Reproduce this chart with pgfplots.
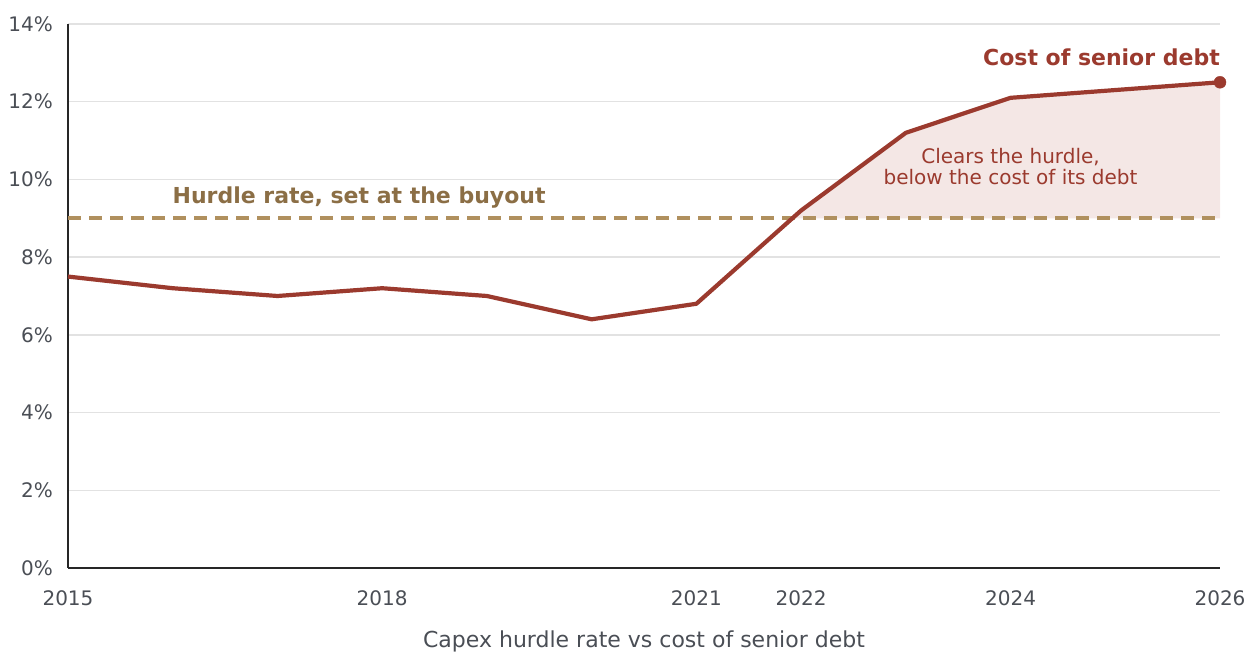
\documentclass[border=0pt]{standalone}
\usepackage{fontspec}
\setmainfont{DejaVu Sans}
\usepackage{pgfplots}
\pgfplotsset{compat=1.18}
\definecolor{debtred}{HTML}{9B3A2E}
\definecolor{hurdle}{HTML}{B0905E}
\definecolor{hurdletext}{HTML}{8B6E45}
\definecolor{fillpink}{HTML}{F4E7E5}
\definecolor{ticktext}{HTML}{4A4E55}
\definecolor{gridc}{HTML}{E2E2E2}
\begin{document}
\begin{tikzpicture}
\path[use as bounding box] (0,0) rectangle (1247pt,652pt);
\begin{axis}[
  at={(68pt,84pt)}, anchor=south west,
  scale only axis, width=1152pt, height=544pt,
  xmin=2015, xmax=2026, ymin=0, ymax=14,
  axis lines*=left,
  axis line style={line width=2.5pt, color=black!85},
  separate axis lines,
  x axis line style={-}, y axis line style={-},
  xtick={2015,2018,2021,2022,2024,2026},
  xticklabels={2015,2018,2021,2022,2024,2026},
  ytick={0,2,4,6,8,10,12,14},
  yticklabels={0\%,2\%,4\%,6\%,8\%,10\%,12\%,14\%},
  major tick length=0pt,
  ymajorgrids, grid style={gridc, line width=1.5pt},
  tick label style={font=\fontsize{20}{22}\selectfont, text=ticktext},
  xticklabel style={anchor=base, yshift=-38pt, inner sep=0pt},
  yticklabel style={anchor=east, xshift=-15pt, inner sep=0pt},
  xlabel={Capex hurdle rate vs cost of senior debt},
  xlabel style={at={(axis description cs:0.5,0)}, anchor=base, yshift=-80pt, inner sep=0pt, font=\fontsize{22}{24}\selectfont, text=ticktext},
  clip=false,
]
% shaded region between debt cost and hurdle
\addplot[fill=fillpink, draw=none, forget plot] coordinates {
  (2021.9167,9) (2022,9.2) (2023,11.2) (2024,12.1) (2026,12.5) (2026,9)
} -- cycle;
% hurdle rate
\addplot[hurdle, line width=4.2pt, dash pattern=on 13pt off 8pt] coordinates {(2015,9) (2026,9)};
% cost of senior debt
\addplot[debtred, line width=4.2pt, line join=round] coordinates {
  (2015,7.5) (2016,7.2) (2017,7.0) (2018,7.2) (2019,7.0) (2020,6.4)
  (2021,6.8) (2022,9.2) (2023,11.2) (2024,12.1) (2026,12.5)
};
\addplot[debtred, only marks, mark=*, mark size=6pt] coordinates {(2026,12.5)};
\node[anchor=base east, inner sep=0pt, text=debtred, font=\bfseries\fontsize{22}{24}\selectfont] at (axis cs:2026,12.92) {Cost of senior debt};
\node[anchor=base, inner sep=0pt, text=hurdletext, font=\bfseries\fontsize{22}{24}\selectfont] at (axis cs:2017.78,9.37) {Hurdle rate, set at the buyout};
\node[align=center, inner sep=0pt, text=debtred, font=\fontsize{20}{21}\selectfont] at (axis cs:2024,10.33) {Clears the hurdle,\\below the cost of its debt};
\end{axis}
\end{tikzpicture}
\end{document}
